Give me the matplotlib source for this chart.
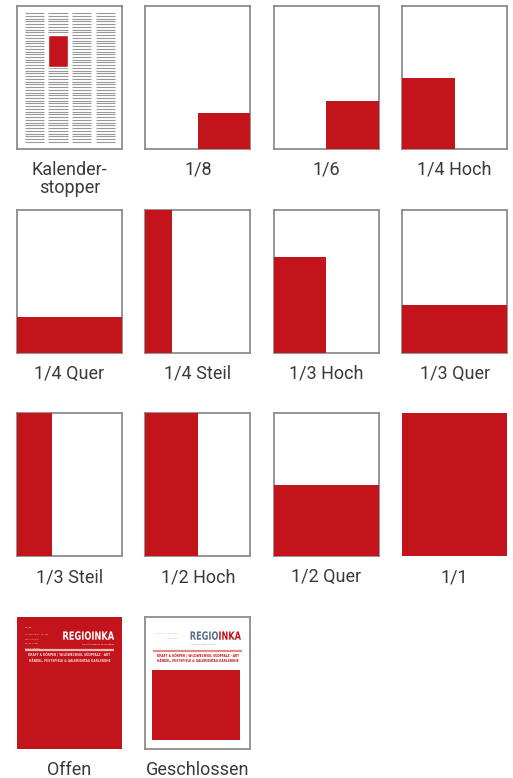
import matplotlib
matplotlib.use("Agg")
import matplotlib.pyplot as plt
from matplotlib.patches import Rectangle, PathPatch
from matplotlib.textpath import TextPath
from matplotlib.font_manager import FontProperties
from matplotlib.transforms import Affine2D
import numpy as np

# ad formats: label, red box as fractions of the page (x0, y0 from bottom-left, w, h)
labels = ["Kalender-\nstopper", "1/8", "1/6", "1/4 Hoch",
          "1/4 Quer", "1/4 Steil", "1/3 Hoch", "1/3 Quer",
          "1/3 Steil", "1/2 Hoch", "1/2 Quer", "1/1",
          "Offen", "Geschlossen"]
red_x0 = [0.298, 0.5, 0.5, 0.0,  0.0, 0.0, 0.0, 0.0,  0.0, 0.0, 0.0, 0.0,  0.0, 0.06]
red_y0 = [0.576, 0.0, 0.0, 0.0,  0.0, 0.0, 0.0, 0.0,  0.0, 0.0, 0.0, 0.0,  0.0, 0.07]
red_w  = [0.185, 0.5, 0.5, 0.5,  1.0, 0.25, 0.5, 1.0,  1/3, 0.5, 1.0, 1.0,  1.0, 0.84]
red_h  = [0.221, 0.25, 1/3, 0.5,  0.25, 1.0, 2/3, 1/3,  1.0, 1.0, 0.5, 1.0,  1.0, 0.53]
bordered = [True, True, True, True,  True, True, True, True,  True, True, True, False,  False, True]

RED = "#c3141b"
EDGE = "#8c8c8c"
TXT = "#3a3a3a"
SLATE = "#5b6f86"

W, H = 513, 778
fig = plt.figure(figsize=(W / 100, H / 100), dpi=100)
fig.patch.set_facecolor("white")

col_left = 17
col_step = 128.4
row_top = 6
row_step = 203.7
page_w = 105
page_h = 143

logo_prop = FontProperties(family="DejaVu Sans", weight="bold")


def logo(ax, x0, x1, yc, h, colors):
    # squeeze the logo text into the box (x0..x1, centre yc, height h)
    parts = [("REGIO", colors[0]), ("INKA", colors[1])]
    full = TextPath((0, 0), "REGIOINKA", size=1, prop=logo_prop).get_extents()
    sx = (x1 - x0) / full.width
    sy = h / full.height
    off = 0
    for s, col in parts:
        tp = TextPath((0, 0), s, size=1, prop=logo_prop)
        tr = Affine2D().translate(off - full.x0, -full.y0).scale(sx, sy) \
            .translate(x0, yc - h / 2) + ax.transData
        ax.add_patch(PathPatch(tp, facecolor=col, edgecolor="none",
                               transform=tr, zorder=5))
        off += TextPath((0, 0), s + "I", size=1, prop=logo_prop).get_extents().width \
            - TextPath((0, 0), "I", size=1, prop=logo_prop).get_extents().width


for i, lab in enumerate(labels):
    r, c = divmod(i, 4)
    left = col_left + c * col_step
    top = row_top + r * row_step
    ph = page_h if r < 3 else 132
    ax = fig.add_axes([left / W, 1 - (top + ph) / H, page_w / W, ph / H])
    ax.set_xlim(0, 1)
    ax.set_ylim(0, 1)
    ax.set_xticks([])
    ax.set_yticks([])
    for s in ax.spines.values():
        s.set_visible(bordered[i])
        s.set_color(EDGE)
        s.set_linewidth(1.3)

    if i == 0:
        # newspaper columns of text lines
        cols = [(0.073, 0.257), (0.298, 0.483), (0.524, 0.708), (0.75, 0.933)]
        ys = np.linspace(0.051, 0.949, 48)
        for a, b in cols:
            ax.hlines(ys, a, b, color="#999999", lw=0.8)

    ax.add_patch(Rectangle((red_x0[i], red_y0[i]), red_w[i], red_h[i],
                           facecolor=RED, edgecolor="white" if i == 0 else "none",
                           lw=1.0 if i == 0 else 0, zorder=3))

    if lab == "Offen":
        logo(ax, 0.44, 0.925, 0.86, 0.065, ("white", "white"))
        ax.text(0.925, 0.795, "Das Kulturmagazin für die Region", color="white",
                fontsize=1.4, ha="right", va="center", zorder=5)
        ax.text(0.08, 0.915, "Nr. 88", color="white", fontsize=1.5, zorder=5)
        for k, t in enumerate(["12. Dezember – 14. Feb.",
                               "Szene & Kultur",
                               "Bühne, Kunst",
                               "Film & Literatur"]):
            ax.text(0.08, 0.87 - k * 0.035, t, color="#f3d0d0", fontsize=1.4,
                    va="center", zorder=5)
        ax.hlines(0.75, 0.08, 0.925, color="#f0b8b8", lw=1.6, zorder=5)
        ax.text(0.5, 0.71, "KRAFT & KÖRPER | WILDWECHSEL SÜDPFALZ · ART",
                color="#f6dada", fontsize=2.1, fontweight="bold", ha="center",
                va="center", zorder=5)
        ax.text(0.5, 0.67, "HÄNDEL, FESTSPIELE & GALERIENTAG KARLSRUHE",
                color="#f6dada", fontsize=2.1, fontweight="bold", ha="center",
                va="center", zorder=5)
    if lab == "Geschlossen":
        logo(ax, 0.43, 0.91, 0.86, 0.065, (SLATE, RED))
        ax.text(0.43, 0.795, "Das Kulturmagazin für die", color="#888888",
                fontsize=1.4, ha="left", va="center", zorder=5)
        ax.text(0.08, 0.875, "12. Dez. – 14. Feb. 2019", color="#999999",
                fontsize=1.4, va="center", zorder=5)
        ax.text(0.2, 0.84, "in Karlsruhe", color="#999999",
                fontsize=1.4, va="center", zorder=5)
        ax.hlines(0.745, 0.07, 0.92, color="#e08a8a", lw=1.6, zorder=5)
        ax.text(0.5, 0.705, "KRAFT & KÖRPER | WILDWECHSEL SÜDPFALZ · ART",
                color=RED, fontsize=2.1, fontweight="bold", ha="center",
                va="center", zorder=5)
        ax.text(0.5, 0.665, "HÄNDEL, FESTSPIELE & GALERIENTAG KARLSRUHE",
                color=RED, fontsize=2.1, fontweight="bold", ha="center",
                va="center", zorder=5)

    # label under the page
    fig.text((left + page_w / 2) / W, 1 - (top + ph + 12) / H, lab,
             ha="center", va="top", fontsize=13, color=TXT,
             family="Roboto", linespacing=1.0)

fig.savefig("out.png", dpi=100, facecolor="white")
